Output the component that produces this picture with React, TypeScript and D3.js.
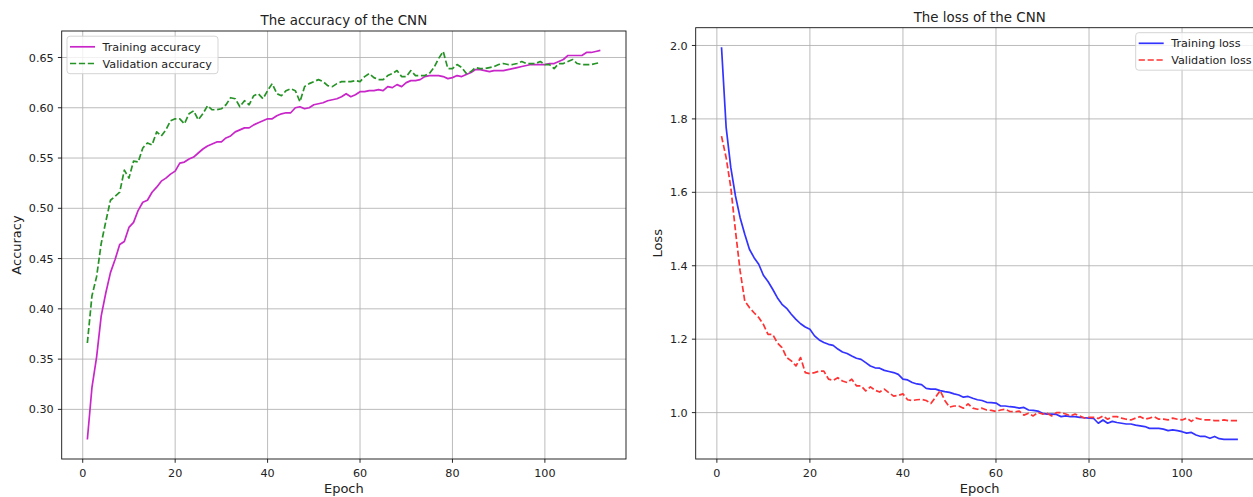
import React from "react";
import * as d3 from "d3";

// values, one per epoch (1..112)
const trainAcc = [
  0.270, 0.322, 0.352, 0.393, 0.416, 0.436, 0.449, 0.464, 0.467, 0.481,
  0.486, 0.498, 0.506, 0.508, 0.516, 0.521, 0.527, 0.530, 0.534, 0.537,
  0.545, 0.546, 0.549, 0.551, 0.555, 0.559, 0.562, 0.564, 0.566, 0.566,
  0.570, 0.572, 0.576, 0.578, 0.580, 0.580, 0.583, 0.585, 0.587, 0.589,
  0.589, 0.592, 0.594, 0.595, 0.595, 0.600, 0.601, 0.599, 0.600, 0.603,
  0.604, 0.605, 0.607, 0.608, 0.609, 0.611, 0.614, 0.611, 0.613, 0.616,
  0.616, 0.617, 0.617, 0.618, 0.617, 0.621, 0.620, 0.623, 0.621, 0.625,
  0.627, 0.627, 0.628, 0.631, 0.632, 0.632, 0.632, 0.631, 0.629, 0.630,
  0.632, 0.631, 0.633, 0.635, 0.638, 0.638, 0.637, 0.636, 0.637, 0.637,
  0.637, 0.638, 0.639, 0.640, 0.641, 0.642, 0.643, 0.643, 0.643, 0.643,
  0.644, 0.644, 0.646, 0.648, 0.652, 0.652, 0.652, 0.652, 0.655, 0.655,
  0.656, 0.657,
];
const valAcc = [
  0.366, 0.413, 0.432, 0.465, 0.487, 0.508, 0.512, 0.516, 0.538, 0.530,
  0.547, 0.546, 0.560, 0.565, 0.563, 0.576, 0.572, 0.578, 0.587, 0.589,
  0.589, 0.584, 0.594, 0.597, 0.588, 0.594, 0.602, 0.598, 0.598, 0.599,
  0.603, 0.610, 0.609, 0.601, 0.607, 0.603, 0.612, 0.614, 0.609, 0.617,
  0.624, 0.614, 0.612, 0.617, 0.619, 0.617, 0.606, 0.621, 0.624, 0.626,
  0.628, 0.626, 0.622, 0.621, 0.624, 0.626, 0.626, 0.626, 0.627, 0.626,
  0.631, 0.634, 0.630, 0.628, 0.628, 0.632, 0.634, 0.637, 0.631, 0.631,
  0.637, 0.632, 0.632, 0.632, 0.634, 0.640, 0.649, 0.656, 0.639, 0.639,
  0.643, 0.640, 0.634, 0.636, 0.640, 0.639, 0.639, 0.640, 0.641, 0.643,
  0.644, 0.643, 0.643, 0.644, 0.646, 0.644, 0.644, 0.644, 0.646, 0.643,
  0.643, 0.639, 0.644, 0.644, 0.646, 0.648, 0.644, 0.643, 0.643, 0.643,
  0.644, 0.645,
];
const trainLoss = [
  1.995, 1.776, 1.667, 1.590, 1.531, 1.486, 1.445, 1.422, 1.404, 1.374,
  1.357, 1.336, 1.313, 1.295, 1.284, 1.268, 1.254, 1.242, 1.233, 1.227,
  1.209, 1.198, 1.191, 1.186, 1.183, 1.173, 1.165, 1.161, 1.154, 1.148,
  1.145, 1.136, 1.127, 1.122, 1.121, 1.115, 1.112, 1.109, 1.104, 1.091,
  1.089, 1.082, 1.078, 1.076, 1.066, 1.064, 1.064, 1.060, 1.057, 1.055,
  1.051, 1.048, 1.042, 1.044, 1.039, 1.035, 1.033, 1.028, 1.027, 1.026,
  1.018, 1.018, 1.016, 1.015, 1.012, 1.014, 1.007, 1.006, 1.004, 0.998,
  0.996, 0.996, 0.995, 0.989, 0.991, 0.989, 0.989, 0.987, 0.986, 0.985,
  0.984, 0.971, 0.980, 0.971, 0.976, 0.973, 0.971, 0.969, 0.969, 0.966,
  0.964, 0.962, 0.957, 0.957, 0.957, 0.955, 0.951, 0.953, 0.951, 0.948,
  0.944, 0.946, 0.939, 0.935, 0.935, 0.930, 0.935, 0.929, 0.927, 0.927,
  0.927, 0.927,
];
const valLoss = [
  1.753, 1.694, 1.613, 1.495, 1.386, 1.304, 1.286, 1.272, 1.259, 1.240,
  1.213, 1.213, 1.190, 1.177, 1.150, 1.141, 1.127, 1.150, 1.109, 1.106,
  1.109, 1.113, 1.113, 1.091, 1.088, 1.095, 1.086, 1.082, 1.091, 1.073,
  1.073, 1.059, 1.070, 1.061, 1.056, 1.064, 1.054, 1.045, 1.047, 1.051,
  1.035, 1.033, 1.035, 1.036, 1.033, 1.025, 1.042, 1.060, 1.033, 1.015,
  1.018, 1.018, 1.012, 1.024, 1.012, 1.009, 1.012, 1.007, 1.006, 1.003,
  1.007, 1.009, 1.003, 1.002, 1.004, 0.993, 0.998, 0.991, 1.000, 0.996,
  0.998, 0.991, 1.000, 1.000, 0.996, 0.991, 0.996, 0.991, 0.985, 0.987,
  0.987, 0.984, 0.991, 0.982, 0.989, 0.989, 0.985, 0.982, 0.980, 0.985,
  0.989, 0.982, 0.985, 0.989, 0.982, 0.982, 0.980, 0.985, 0.982, 0.980,
  0.985, 0.976, 0.985, 0.982, 0.980, 0.980, 0.978, 0.978, 0.980, 0.978,
  0.978, 0.978,
];

const epochTicks = [0, 20, 40, 60, 80, 100];
const accTicks = [0.3, 0.35, 0.4, 0.45, 0.5, 0.55, 0.6, 0.65];
const lossTicks = [1.0, 1.2, 1.4, 1.6, 1.8, 2.0];

const FONT = "DejaVu Sans, sans-serif";
const TICK_FS = 11.2;
const TEXT = "#222";

type Series = { label: string; values: number[]; color: string; dashed?: boolean };

// matplotlib-like 5% margins around the data
function padded(vals: number[]): [number, number] {
  const [lo, hi] = d3.extent(vals) as [number, number];
  const m = (hi - lo) * 0.05;
  return [lo - m, hi + m];
}

function Panel({ box, title, titleY, ylabel, ylabelX, yTicks, yFmt, series, legend }: any) {
  const n = series[0].values.length;
  const epochs = series[0].values.map((_: number, i: number) => i + 1);
  const x = d3.scaleLinear().domain(padded([1, n])).range([box.l, box.r]);
  const allY = series.flatMap((s: Series) => s.values);
  const y = d3.scaleLinear().domain(padded(allY)).range([box.b, box.t]);
  const fmt = d3.format(yFmt);

  const line = d3
    .line<number>()
    .x((_, i) => x(epochs[i]))
    .y((d) => y(d));

  return (
    <g>
      {/* grid */}
      {epochTicks.map((t) => (
        <line key={"gx" + t} x1={x(t)} x2={x(t)} y1={box.t} y2={box.b} stroke="#b0b0b0" strokeWidth={0.85} />
      ))}
      {yTicks.map((t: number) => (
        <line key={"gy" + t} x1={box.l} x2={box.r} y1={y(t)} y2={y(t)} stroke="#b0b0b0" strokeWidth={0.85} />
      ))}

      {/* series */}
      {series.map((s: Series) => (
        <path
          key={s.label}
          d={line(s.values) || ""}
          fill="none"
          stroke={s.color}
          strokeWidth={1.7}
          strokeDasharray={s.dashed ? "6.2,2.7" : undefined}
          strokeLinejoin="round"
        />
      ))}

      {/* spines */}
      <rect x={box.l} y={box.t} width={box.r - box.l} height={box.b - box.t} fill="none" stroke="#111" strokeWidth={0.9} />

      {/* x ticks */}
      {epochTicks.map((t) => (
        <g key={"xt" + t}>
          <line x1={x(t)} x2={x(t)} y1={box.b} y2={box.b + 3.8} stroke="#111" strokeWidth={0.9} />
          <text x={x(t)} y={box.b + 17.5} textAnchor="middle" fontSize={TICK_FS} fontFamily={FONT} fill={TEXT}>
            {t}
          </text>
        </g>
      ))}
      {/* y ticks */}
      {yTicks.map((t: number) => (
        <g key={"yt" + t}>
          <line x1={box.l - 3.8} x2={box.l} y1={y(t)} y2={y(t)} stroke="#111" strokeWidth={0.9} />
          <text x={box.l - 8} y={y(t)} dy="0.36em" textAnchor="end" fontSize={TICK_FS} fontFamily={FONT} fill={TEXT}>
            {fmt(t)}
          </text>
        </g>
      ))}

      {/* labels */}
      <text x={(box.l + box.r) / 2} y={titleY} textAnchor="middle" fontSize={13.4} fontFamily={FONT} fill={TEXT}>
        {title}
      </text>
      <text x={(box.l + box.r) / 2} y={493} textAnchor="middle" fontSize={13} fontFamily={FONT} fill={TEXT}>
        Epoch
      </text>
      <text
        transform={`translate(${ylabelX},${(box.t + box.b) / 2}) rotate(-90)`}
        textAnchor="middle"
        fontSize={13}
        fontFamily={FONT}
        fill={TEXT}
      >
        {ylabel}
      </text>

      {/* legend */}
      <g>
        <rect x={legend.x} y={legend.y} width={legend.w} height={37.5} rx={3} fill="#fff" fillOpacity={0.8} stroke="#d0d0d0" strokeWidth={0.9} />
        {series.map((s: Series, i: number) => {
          const ry = legend.y + 10.6 + i * 16.7;
          return (
            <g key={"lg" + s.label}>
              <line
                x1={legend.x + 3}
                x2={legend.x + 28}
                y1={ry}
                y2={ry}
                stroke={s.color}
                strokeWidth={1.7}
                strokeDasharray={s.dashed ? "6.2,2.7" : undefined}
              />
              <text x={legend.x + 35.5} y={ry} dy="0.36em" fontSize={TICK_FS} fontFamily={FONT} fill={TEXT}>
                {s.label}
              </text>
            </g>
          );
        })}
      </g>
    </g>
  );
}

export default function App() {
  const accSeries: Series[] = [
    { label: "Training accuracy", values: trainAcc, color: "#c926c9" },
    { label: "Validation accuracy", values: valAcc, color: "#269326", dashed: true },
  ];
  const lossSeries: Series[] = [
    { label: "Training loss", values: trainLoss, color: "#3333ff" },
    { label: "Validation loss", values: valLoss, color: "#ff3333", dashed: true },
  ];

  return (
    <svg width={1253} height={497} style={{ position: "absolute", left: 0, top: 0, background: "#fff" }}>
      <Panel
        box={{ l: 61.7, r: 626, t: 31, b: 459 }}
        title="The accuracy of the CNN"
        titleY={25.3}
        ylabel="Accuracy"
        ylabelX={21}
        yTicks={accTicks}
        yFmt=".2f"
        series={accSeries}
        legend={{ x: 67, y: 36.2, w: 151 }}
      />
      <Panel
        box={{ l: 695.7, r: 1263.7, t: 27.7, b: 459 }}
        title="The loss of the CNN"
        titleY={21.6}
        ylabel="Loss"
        ylabelX={661.5}
        yTicks={lossTicks}
        yFmt=".1f"
        series={lossSeries}
        legend={{ x: 1135.7, y: 32.7, w: 124 }}
      />
    </svg>
  );
}
